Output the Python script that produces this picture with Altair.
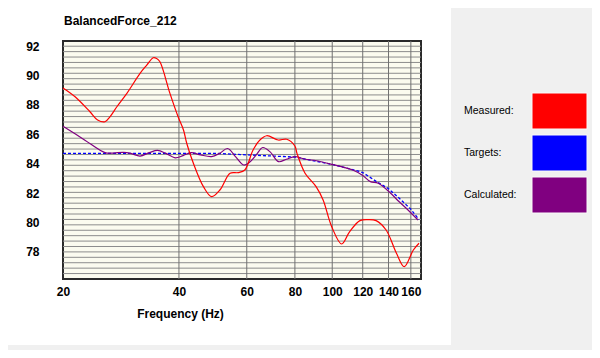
import altair as alt
import pandas as pd
import numpy as np

TITLE = "BalancedForce_212"
X_TITLE = "Frequency (Hz)"

# Measured (red)
meas_f = [20, 21.5, 23.5, 24.6, 25.7, 26.5, 27.6, 29.3, 31.7, 33, 34.3, 35.0, 35.7, 37.9, 39.8,
          41.1, 41.9, 43.6, 46.3, 48.6, 51.1, 54.3, 57, 59.3, 62.3, 64.9, 67.6, 72.4, 76.2,
          80, 81, 85, 90.8, 94.7, 99.7, 105.8, 111, 118, 124, 130, 138, 146.8, 153.8, 162.4, 168]
meas_v = [89.15, 88.55, 87.53, 86.97, 86.85, 87.2, 87.87, 88.78, 90.14, 90.7, 91.2, 91.15, 90.93, 88.78, 87.19,
          86.29, 85.39, 84.03, 82.44, 81.76, 82.21, 83.35, 83.39, 83.57, 84.93, 85.61, 85.9, 85.61, 85.66,
          85.2, 84.7, 83.35, 82.44, 81.53, 79.71, 78.54, 79.38, 80.13, 80.2, 80.13, 79.49, 77.91, 77.0, 78.13, 78.59]

# Targets (blue dashed)
targ_f = [20, 50, 60, 80, 100, 113, 120, 130, 140, 150, 160, 168]
targ_v = [84.7, 84.7, 84.6, 84.45, 83.95, 83.6, 83.4, 82.8, 82.3, 81.6, 80.9, 80.2]

# Calculated (purple)
calc_f = [20, 22.8, 25.7, 27, 28.7, 30, 31.7, 33.5, 35.2, 37, 39.1, 41, 43, 45.5, 48.6, 51, 53.5, 56,
          58.9, 61, 63.5, 66, 69, 72.5, 76, 80, 85, 91, 100, 113, 120, 125.6, 131.6, 141.8, 148, 155.6, 167]
calc_v = [86.55, 85.6, 84.75, 84.72, 84.77, 84.7, 84.52, 84.75, 84.9, 84.7, 84.4, 84.55, 84.75, 84.6, 84.48, 84.7, 85.03, 84.5,
          83.91, 84.1, 84.6, 85.1, 84.8, 84.14, 84.3, 84.48, 84.3, 84.2, 83.95, 83.57, 83.2, 82.78, 82.67, 81.99, 81.5, 80.97, 80.17]

x_ticks = [20, 40, 60, 80, 100, 120, 140, 160]
y_ticks = [78, 80, 82, 84, 86, 88, 90, 92]

legend_names = ["Measured:", "Targets:", "Calculated:"]
legend_colors = ["#FF0000", "#0000FF", "#800080"]

FONT = "Liberation Sans"
X_DOMAIN = [20, 170]
Y_DOMAIN = [76.16, 92.34]

xs = alt.Scale(type="log", domain=X_DOMAIN, nice=False)
ys = alt.Scale(domain=Y_DOMAIN, nice=False, zero=False)

df_m = pd.DataFrame({"f": meas_f, "v": meas_v})
df_t = pd.DataFrame({"f": targ_f, "v": targ_v})
df_c = pd.DataFrame({"f": calc_f, "v": calc_v})

hgrid = pd.DataFrame({"g": np.arange(Y_DOMAIN[0] + 0.37, Y_DOMAIN[1] - 0.1, 0.368)})
vgrid = pd.DataFrame({"g": x_ticks[1:]})
one = pd.DataFrame({"t": [TITLE]})

x_axis = alt.Axis(values=x_ticks, grid=False, ticks=False, domain=False, labelOverlap=False,
                  labelFont=FONT, labelFontSize=12, labelFontWeight="bold", labelColor="#000",
                  labelPadding=7, title=X_TITLE, titleFont=FONT, titleFontSize=12,
                  titleFontWeight="bold", titleColor="#000", titleX=117, titleY=34,
                  titleBaseline="middle", titleAnchor="start", titleAlign="center", format="d",
                  labelFlush=False)
y_axis = alt.Axis(values=y_ticks, grid=False, ticks=False, domain=False, title=None,
                  labelFont=FONT, labelFontSize=12, labelFontWeight="bold", labelColor="#000",
                  labelPadding=24, format="d")

gray_bg = alt.Chart(one).mark_rect(color="#F0F0F0").encode(
    x=alt.value(388), x2=alt.value(529), y=alt.value(-33), y2=alt.value(309))
gray_bottom = alt.Chart(one).mark_rect(color="#F0F0F0").encode(
    x=alt.value(-55), x2=alt.value(388), y=alt.value(304), y2=alt.value(309))

h_rules = alt.Chart(hgrid).mark_rule(color="#8C8C8C", strokeWidth=1).encode(
    y=alt.Y("g:Q", scale=ys, axis=y_axis))
v_rules = alt.Chart(vgrid).mark_rule(color="#707070", strokeWidth=1).encode(
    x=alt.X("g:Q", scale=xs, axis=x_axis))

targ = alt.Chart(df_t).mark_line(color="#0000FF", strokeWidth=1.3, strokeDash=[3, 2]).encode(
    x=alt.X("f:Q", scale=xs, axis=x_axis), y=alt.Y("v:Q", scale=ys, axis=y_axis))
calc = alt.Chart(df_c).mark_line(color="#800080", strokeWidth=1.2, interpolate="catmull-rom").encode(
    x=alt.X("f:Q", scale=xs, axis=x_axis), y=alt.Y("v:Q", scale=ys, axis=y_axis))
meas = alt.Chart(df_m).mark_line(color="#FF0000", strokeWidth=1.2, interpolate="catmull-rom").encode(
    x=alt.X("f:Q", scale=xs, axis=x_axis), y=alt.Y("v:Q", scale=ys, axis=y_axis))

title = alt.Chart(one).mark_text(align="left", baseline="middle", font=FONT, fontSize=12,
                                 fontWeight="bold", color="#000").encode(
    x=alt.value(1), y=alt.value(-20), text="t:N")

df_leg = pd.DataFrame({"name": legend_names, "color": legend_colors, "idx": [0, 1, 2]})
leg_base = alt.Chart(df_leg).transform_calculate(
    y0="52 + datum.idx * 42", y1="52 + datum.idx * 42 + 36", ty="70 + datum.idx * 42")
leg_rect = leg_base.mark_rect(stroke="#FAFAFA", strokeWidth=1).encode(
    x=alt.value(469), x2=alt.value(524),
    y=alt.Y("y0:Q", scale=None), y2="y1:Q",
    color=alt.Color("color:N", scale=None))
leg_text = leg_base.mark_text(align="left", baseline="middle", font=FONT, fontSize=10.5, color="#000").encode(
    x=alt.value(401), y=alt.Y("ty:Q", scale=None), text="name:N")

chart = alt.layer(
    gray_bg, gray_bottom, h_rules, v_rules, targ, calc, meas, title, leg_rect, leg_text
).properties(
    width=358, height=238,
    padding={"left": 55, "top": 33, "right": 171, "bottom": 71},
    autosize=alt.AutoSizeParams(type="none"),
    background="#FFFFFF",
).configure_view(
    fill="#FBFBEF", stroke="#2A2A2A", strokeWidth=2
)

chart.save("out.html", embed_options={"renderer": "svg", "actions": False})
